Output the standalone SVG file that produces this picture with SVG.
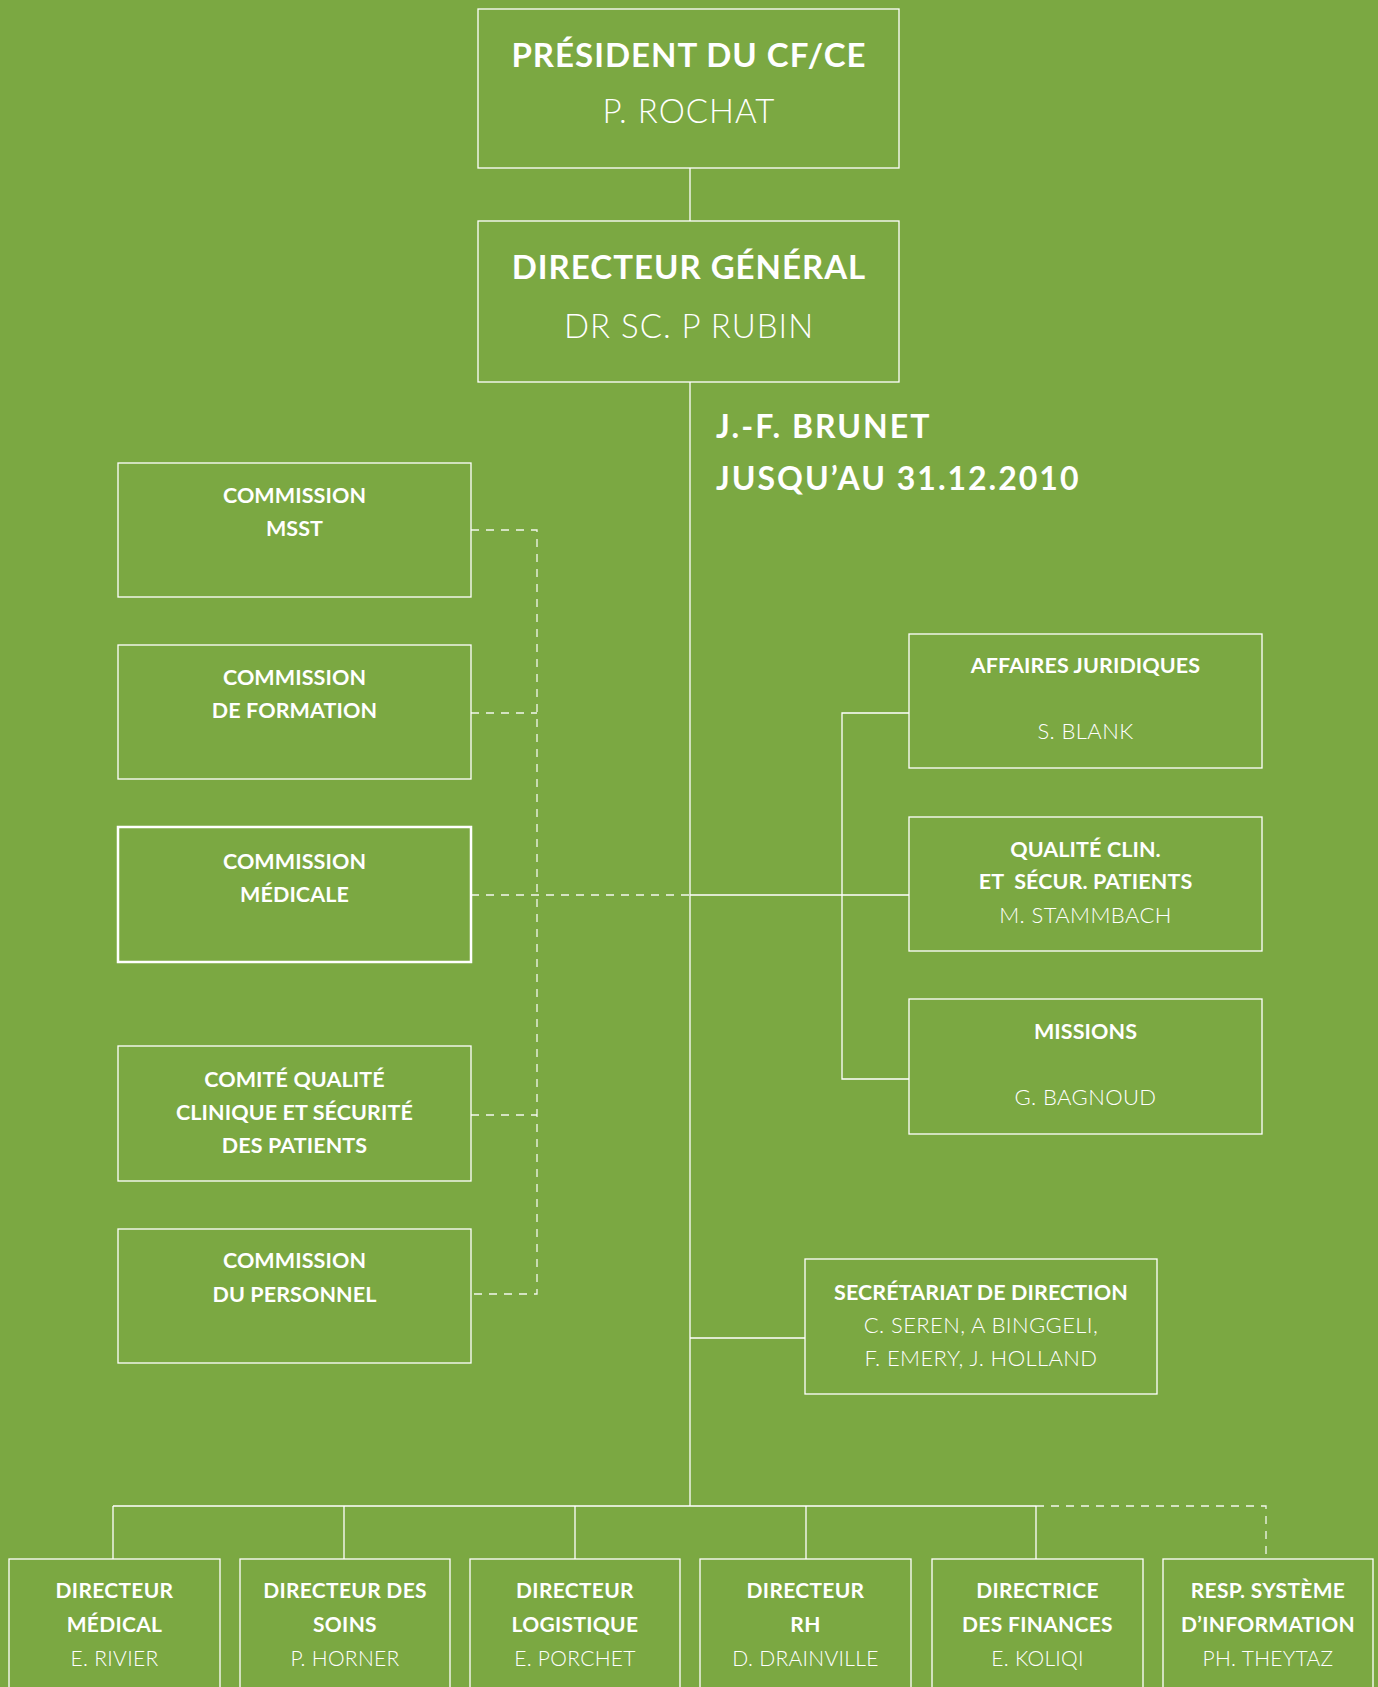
<svg xmlns="http://www.w3.org/2000/svg" width="1378" height="1687" viewBox="0 0 1378 1687">
<style>
.bg{fill:#7ba842}
.box{fill:none;stroke:#fff;stroke-width:1.3}
.thick{stroke-width:2.5}
.ln{stroke:#fff;stroke-width:1.3;fill:none}
.dash{stroke:#fff;stroke-width:1.3;fill:none;stroke-dasharray:8 7;opacity:0.9}
text{font-family:Lato,"Liberation Sans",sans-serif;fill:#fff;text-anchor:middle}
.t1{font-size:33px;font-weight:700;letter-spacing:1px}
.n1{font-size:33px;font-weight:300;letter-spacing:1px}
.t2{font-size:21.5px;font-weight:700;letter-spacing:0.1px}
.n2{font-size:22px;font-weight:300;letter-spacing:0.4px}
.t3{font-size:21px;font-weight:700;letter-spacing:0.3px}
.n3{font-size:21px;font-weight:300;letter-spacing:0.3px}
.note{font-size:32px;font-weight:700;letter-spacing:2px;text-anchor:start}
</style>
<rect class="bg" x="0" y="0" width="1378" height="1687"/>
<g id="connectors">
<line class="ln" x1="690" y1="168" x2="690" y2="221"/>
<line class="ln" x1="690" y1="382" x2="690" y2="1506"/>
<line class="ln" x1="690" y1="895" x2="909" y2="895"/>
<polyline class="ln" points="909,713 842,713 842,1079 909,1079"/>
<line class="ln" x1="690" y1="1338" x2="805" y2="1338"/>
<line class="ln" x1="113" y1="1506" x2="1036" y2="1506"/>
<line class="ln" x1="113" y1="1506" x2="113" y2="1559"/>
<line class="ln" x1="344" y1="1506" x2="344" y2="1559"/>
<line class="ln" x1="575" y1="1506" x2="575" y2="1559"/>
<line class="ln" x1="806" y1="1506" x2="806" y2="1559"/>
<line class="ln" x1="1036" y1="1506" x2="1036" y2="1559"/>
<polyline class="dash" points="1036,1506 1266,1506 1266,1559"/>
<polyline class="dash" points="471,530 537,530 537,1294 471,1294"/>
<line class="dash" x1="471" y1="713" x2="537" y2="713"/>
<line class="dash" x1="471" y1="895" x2="690" y2="895"/>
<line class="dash" x1="471" y1="1115" x2="537" y2="1115"/>
</g>
<g id="president">
<rect class="box" x="478" y="9" width="421" height="159"/>
<text class="t1" x="689" y="67">PRÉSIDENT DU CF/CE</text>
<text class="n1" x="689" y="123">P. ROCHAT</text>
</g>
<g id="directeur-general">
<rect class="box" x="478" y="221" width="421" height="161"/>
<text class="t1" x="689" y="279">DIRECTEUR GÉNÉRAL</text>
<text class="n1" x="689" y="338">DR SC. P RUBIN</text>
</g>
<g id="brunet">
<text class="note" x="716" y="438">J.-F. BRUNET</text>
<text class="note" x="716" y="490">JUSQU’AU 31.12.2010</text>
</g>
<g id="commission-msst">
<rect class="box" x="118" y="463" width="353" height="134"/>
<text class="t2" x="294.5" y="503">COMMISSION</text>
<text class="t2" x="294.5" y="536">MSST</text>
</g>
<g id="commission-formation">
<rect class="box" x="118" y="645" width="353" height="134"/>
<text class="t2" x="294.5" y="685">COMMISSION</text>
<text class="t2" x="294.5" y="718">DE FORMATION</text>
</g>
<g id="commission-medicale">
<rect class="box thick" x="118" y="827" width="353" height="135"/>
<text class="t2" x="294.5" y="869">COMMISSION</text>
<text class="t2" x="294.5" y="902">MÉDICALE</text>
</g>
<g id="comite-qualite">
<rect class="box" x="118" y="1046" width="353" height="135"/>
<text class="t2" x="294.5" y="1087">COMITÉ QUALITÉ</text>
<text class="t2" x="294.5" y="1120">CLINIQUE ET SÉCURITÉ</text>
<text class="t2" x="294.5" y="1153">DES PATIENTS</text>
</g>
<g id="commission-personnel">
<rect class="box" x="118" y="1229" width="353" height="134"/>
<text class="t2" x="294.5" y="1268">COMMISSION</text>
<text class="t2" x="294.5" y="1302">DU PERSONNEL</text>
</g>
<g id="affaires-juridiques">
<rect class="box" x="909" y="634" width="353" height="134"/>
<text class="t2" x="1085.5" y="673">AFFAIRES JURIDIQUES</text>
<text class="n2" x="1085.5" y="739">S. BLANK</text>
</g>
<g id="qualite-clin">
<rect class="box" x="909" y="817" width="353" height="134"/>
<text class="t2" x="1085.5" y="857">QUALITÉ CLIN.</text>
<text class="t2" x="1085.5" y="889" xml:space="preserve">ET  SÉCUR. PATIENTS</text>
<text class="n2" x="1085.5" y="923">M. STAMMBACH</text>
</g>
<g id="missions">
<rect class="box" x="909" y="999" width="353" height="135"/>
<text class="t2" x="1085.5" y="1039">MISSIONS</text>
<text class="n2" x="1085.5" y="1105">G. BAGNOUD</text>
</g>
<g id="secretariat">
<rect class="box" x="805" y="1259" width="352" height="135"/>
<text class="t2" x="981" y="1300">SECRÉTARIAT DE DIRECTION</text>
<text class="n2" x="981" y="1333">C. SEREN, A BINGGELI,</text>
<text class="n2" x="981" y="1366">F. EMERY, J. HOLLAND</text>
</g>
<g id="directeur-medical">
<rect class="box" x="9" y="1559" width="211" height="140"/>
<text class="t3" x="114.5" y="1598">DIRECTEUR</text>
<text class="t3" x="114.5" y="1632">MÉDICAL</text>
<text class="n3" x="114.5" y="1666">E. RIVIER</text>
</g>
<g id="directeur-soins">
<rect class="box" x="240" y="1559" width="210" height="140"/>
<text class="t3" x="345" y="1598">DIRECTEUR DES</text>
<text class="t3" x="345" y="1632">SOINS</text>
<text class="n3" x="345" y="1666">P. HORNER</text>
</g>
<g id="directeur-logistique">
<rect class="box" x="470" y="1559" width="210" height="140"/>
<text class="t3" x="575" y="1598">DIRECTEUR</text>
<text class="t3" x="575" y="1632">LOGISTIQUE</text>
<text class="n3" x="575" y="1666">E. PORCHET</text>
</g>
<g id="directeur-rh">
<rect class="box" x="700" y="1559" width="211" height="140"/>
<text class="t3" x="805.5" y="1598">DIRECTEUR</text>
<text class="t3" x="805.5" y="1632">RH</text>
<text class="n3" x="805.5" y="1666">D. DRAINVILLE</text>
</g>
<g id="directrice-finances">
<rect class="box" x="932" y="1559" width="211" height="140"/>
<text class="t3" x="1037.5" y="1598">DIRECTRICE</text>
<text class="t3" x="1037.5" y="1632">DES FINANCES</text>
<text class="n3" x="1037.5" y="1666">E. KOLIQI</text>
</g>
<g id="resp-systeme-information">
<rect class="box" x="1163" y="1559" width="210" height="140"/>
<text class="t3" x="1268" y="1598">RESP. SYSTÈME</text>
<text class="t3" x="1268" y="1632">D’INFORMATION</text>
<text class="n3" x="1268" y="1666">PH. THEYTAZ</text>
</g>
</svg>
